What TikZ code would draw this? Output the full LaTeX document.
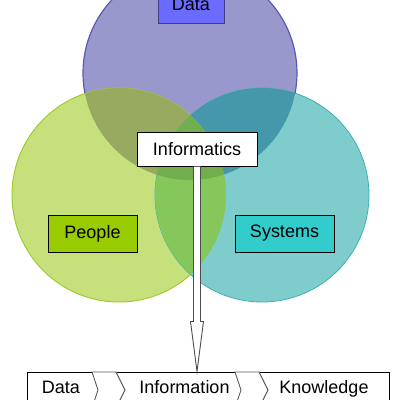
\documentclass[tikz,border=0pt]{standalone}
\usepackage{fontspec}
\setmainfont{Liberation Sans}
\usetikzlibrary{calc}
\definecolor{cD}{HTML}{9898CC}
\definecolor{cP}{HTML}{C6E07C}
\definecolor{cS}{HTML}{7ECCCC}
\definecolor{cDP}{HTML}{98AA60}
\definecolor{cDS}{HTML}{4598AC}
\definecolor{cPS}{HTML}{85C75A}
\definecolor{cDPS}{HTML}{70AE4E}
\definecolor{bD}{HTML}{5A5AB4}
\definecolor{bP}{HTML}{A0CC30}
\definecolor{bS}{HTML}{40B0B0}
\definecolor{boxD}{HTML}{6B6BFF}
\definecolor{boxP}{HTML}{99CC00}
\definecolor{boxS}{HTML}{33CCCC}
\begin{document}
\begin{tikzpicture}[x=1pt,y=-1pt,
  lbl/.style={draw=black,line width=1pt,inner sep=0pt,font=\fontsize{18}{20}\selectfont},
  flowtxt/.style={inner sep=0pt,anchor=base,font=\fontsize{18}{20}\selectfont},
  chev/.style={draw=gray!70!black,fill=white,line width=0.9pt,line join=miter},
  bigarrow/.style={draw=gray!60!black,fill=white,line width=0.9pt}]
\useasboundingbox (0,0) rectangle (400,400);
\def\rr{107}
\coordinate (cd) at (190,73);
\coordinate (cp) at (119,195);
\coordinate (cs) at (262,195);
% single circles
\filldraw[fill=cD,draw=bD,line width=1.2pt] (cd) circle (\rr);
\filldraw[fill=cP,draw=bP,line width=1pt] (cp) circle (\rr);
\filldraw[fill=cS,draw=bS,line width=0.8pt] (cs) circle (\rr);
% pairwise overlaps
\begin{scope}\clip (cd) circle (\rr); \fill[cDP] (cp) circle (\rr);\end{scope}
\begin{scope}\clip (cd) circle (\rr); \fill[cDS] (cs) circle (\rr);\end{scope}
\begin{scope}\clip (cp) circle (\rr); \fill[cPS] (cs) circle (\rr);\end{scope}
\begin{scope}\clip (cd) circle (\rr); \clip (cp) circle (\rr); \fill[cDPS] (cs) circle (\rr);\end{scope}
% labels
\node[lbl,fill=boxD,draw=bD!70!black,minimum width=66pt,minimum height=37pt] (data) at (191,4.5) {Data};
\node[lbl,fill=white,minimum width=120pt,minimum height=34pt] (info) at (197,149) {Informatics};
\node[lbl,fill=boxP,minimum width=89pt,minimum height=37pt] (people) at (92.5,233.5) {People};
\node[lbl,fill=boxS,minimum width=99pt,minimum height=37pt] (systems) at (284.5,233.5) {Systems};
% bottom flow box
\node[draw=black,fill=white,line width=1pt,minimum width=362pt,minimum height=38pt,inner sep=0pt] (flow) at (208,391) {};
\draw[chev] (92,372) -- (116,372) -- (125,390) -- (116,408) -- (92,408) -- (98,390) -- cycle;
\draw[chev] (235,372) -- (259,372) -- (268,390) -- (259,408) -- (235,408) -- (241,390) -- cycle;
\node[flowtxt] (t1) at (61,393) {Data};
\node[flowtxt] (t2) at (184.5,393) {Information};
\node[flowtxt] (t3) at (324,393) {Knowledge};
% big arrow
\coordinate (as) at (info.south);
\coordinate (ae) at (as |- flow.north);
\draw[bigarrow] ($(as)+(-3.5,0)$) -- ($(ae)+(-3.5,-50)$) -- ($(ae)+(-6.5,-50)$) -- (ae)
  -- ($(ae)+(6.5,-50)$) -- ($(ae)+(3.5,-50)$) -- ($(as)+(3.5,0)$);
\end{tikzpicture}
\end{document}
